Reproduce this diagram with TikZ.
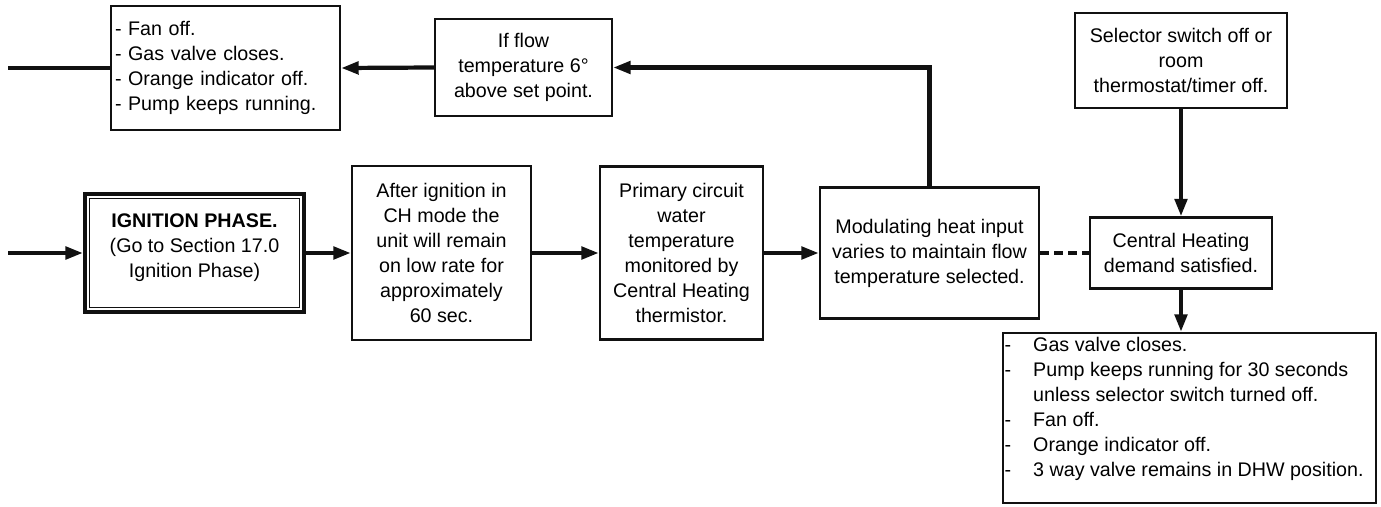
\documentclass[tikz,border=0pt]{standalone}
\usepackage{fontspec}
\setmainfont{Liberation Sans}
\usepackage{tikz}
\usetikzlibrary{positioning, arrows.meta, calc}
\definecolor{inkBlack}{HTML}{111111}

\begin{document}
\begin{tikzpicture}[
    flowBox/.style={draw=inkBlack, line width=1.3pt, rectangle, fill=white, align=center, font=\fontsize{11.2}{14.2}\selectfont, inner sep=2pt},
    listBox/.style={draw=inkBlack, line width=1.3pt, rectangle, fill=white, align=left, font=\fontsize{11.2}{14.2}\selectfont, inner xsep=0.08cm},
    phaseBox/.style={draw=inkBlack, line width=2pt, rectangle, align=center, font=\fontsize{11.2}{14.2}\selectfont},
    flowArrow/.style={draw=inkBlack, line width=2.4pt, -{Triangle[length=10pt, width=7pt]}},
    flowLine/.style={draw=inkBlack, line width=2.4pt},
    flowDash/.style={draw=inkBlack, line width=2.4pt, dash pattern=on 5pt off 3pt},
]
\useasboundingbox (0,0) rectangle (27.62,10.12);
\node[listBox, text width=4.42cm, minimum height=2.48cm] (fanOff) at (4.51, 8.76) {
    - Fan off.\\
    - Gas valve closes.\\
    - Orange indicator off.\\
    - Pump keeps running.
};
\node[flowBox, minimum width=3.54cm, minimum height=1.94cm] (ifFlow) at (10.47, 8.77) {If flow\\temperature 6°\\above set point.};
\node[flowBox, minimum width=4.24cm, minimum height=1.90cm] (selector) at (23.62, 8.91) {Selector switch off or\\room\\thermostat/timer off.};
\node[phaseBox, minimum width=4.39cm, minimum height=2.37cm] (ignition) at (3.89, 5.06) {\textbf{IGNITION PHASE.}\\(Go to Section 17.0\\Ignition Phase)\\[-6pt]\mbox{}};
\draw[inkBlack, line width=1pt] ([shift={(0.13,-0.13)}]ignition.north west) rectangle ([shift={(-0.13,0.13)}]ignition.south east);
\node[flowBox, minimum width=3.58cm, minimum height=3.48cm] (afterIgn) at (8.83, 5.06) {After ignition in\\CH mode the\\unit will remain\\on low rate for\\approximately\\60 sec.};
\node[flowBox, minimum width=3.26cm, minimum height=3.46cm] (primary) at (13.63, 5.06) {Primary circuit\\water\\temperature\\monitored by\\Central Heating\\thermistor.};
\node[flowBox, minimum width=4.38cm, minimum height=2.62cm] (modulating) at (18.59, 5.06) {Modulating heat input\\varies to maintain flow\\temperature selected.};
\node[flowBox, minimum width=3.64cm, minimum height=1.42cm] (chDemand) at (23.62, 5.06) {Central Heating\\demand satisfied.};
\node[flowBox, minimum width=7.46cm, minimum height=3.40cm] (shutDown) at (23.79, 1.76) {};
\node[anchor=north west, align=left, inner sep=0pt, font=\fontsize{11.2}{14.2}\selectfont] (shutDownText) at ([shift={(0.05,-0.10)}]shutDown.north west) {
    \makebox[0.57cm][l]{-}Gas valve closes.\\
    \makebox[0.57cm][l]{-}Pump keeps running for 30 seconds\\
    \makebox[0.57cm][l]{}unless selector switch turned off.\\
    \makebox[0.57cm][l]{-}Fan off.\\
    \makebox[0.57cm][l]{-}Orange indicator off.\\
    \makebox[0.57cm][l]{-}3 way valve remains in DHW position.
};
\coordinate (fanExit) at (0.16, 8.76);
\coordinate (phaseEntry) at (0.16, 5.06);
\draw[flowLine] (fanOff.west) -- (fanExit);
\draw[flowArrow] (ifFlow.west) -- (fanOff.east);
\draw[flowArrow] (modulating.north) |- (ifFlow.east);
\draw[flowArrow] (phaseEntry) -- (ignition.west);
\draw[flowArrow] (ignition.east) -- (afterIgn.west);
\draw[flowArrow] (afterIgn.east) -- (primary.west);
\draw[flowArrow] (primary.east) -- (modulating.west);
\draw[flowDash] (modulating.east) -- (chDemand.west);
\draw[flowArrow] (selector.south) -- (chDemand.north);
\draw[flowArrow] (chDemand.south) -- (chDemand.south |- shutDown.north);
\end{tikzpicture}
\end{document}
